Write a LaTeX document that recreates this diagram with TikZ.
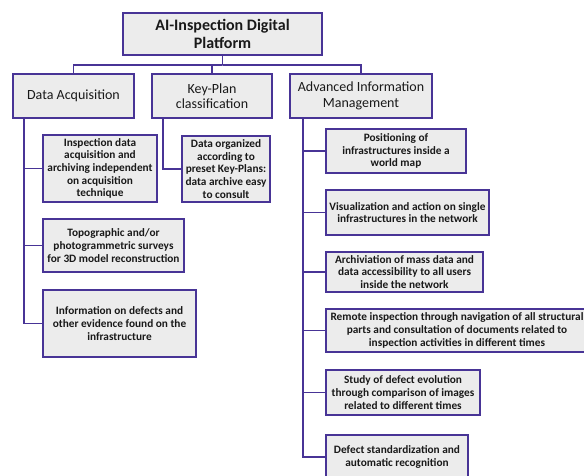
\documentclass[tikz,border=0pt]{standalone}
\usepackage{fontspec}
\setmainfont{Carlito}
\definecolor{bord}{RGB}{72,52,150}
\definecolor{boxfill}{RGB}{236,236,236}
\definecolor{txt}{RGB}{25,25,25}
\tikzset{
  box/.style={draw=bord, line width=1.8pt, fill=boxfill, inner sep=0pt, align=center, text=txt},
  topbox/.style={box, font=\bfseries\fontsize{16}{18}\selectfont},
  lvlbox/.style={box, font=\fontsize{14}{15.5}\selectfont, minimum height=44pt},
  subbox/.style={box, font=\bfseries\fontsize{11.3}{12.6}\selectfont},
  conn/.style={draw=bord, line width=1.5pt}
}
\begin{document}
\begin{tikzpicture}[x=1pt,y=-1pt]
\useasboundingbox (0,0) rectangle (584,475);
\clip (0,0) rectangle (584,475);
\fill[white] (0,0) rectangle (584,475);
% top
\node[topbox, minimum width=199pt, minimum height=42pt] (top) at (222.5,34) {AI-Inspection Digital\\Platform};
% level 1
\node[lvlbox, minimum width=121pt] (da) at (73.5,96) {Data Acquisition};
\node[lvlbox, minimum width=120pt] (kp) at (212,96) {Key-Plan\\classification};
\node[lvlbox, minimum width=142pt] (adv) at (361,96) {Advanced Information\\Management};
% bus
\coordinate (bus) at (222.5,65);
\draw[conn] (top.south) -- (bus);
\draw[conn] (da.north) |- (bus) -| (kp.north);
\draw[conn] (bus) -| (adv.north);
% Data acquisition children
\node[subbox, minimum width=114pt, minimum height=67pt] (insp) at (100,168.5) {Inspection data\\acquisition and\\archiving independent\\on acquisition\\technique};
\node[subbox, minimum width=141pt, minimum height=53pt] (topo) at (113.5,245.5) {Topographic and/or\\photogrammetric surveys\\for 3D model reconstruction};
\node[subbox, minimum width=153pt, minimum height=67pt] (info) at (119.5,323.5) {Information on defects and\\other evidence found on the\\infrastructure};
\draw[conn] ([xshift=12pt]da.south west) |- (insp.west);
\draw[conn] ([xshift=12pt]da.south west) |- (topo.west);
\draw[conn] ([xshift=12pt]da.south west) |- (info.west);
% Key-plan child
\node[subbox, minimum width=88pt, minimum height=66pt] (kpc) at (226,169) {Data organized\\according to\\preset Key-Plans:\\data archive easy\\to consult};
\draw[conn] ([xshift=12pt]kp.south west) |- (kpc.west);
% Advanced children
\node[subbox, minimum width=140pt, minimum height=44pt] (pos) at (396,151) {Positioning of\\infrastructures inside a\\world map};
\node[subbox, minimum width=163pt, minimum height=45pt] (vis) at (407.5,212.5) {Visualization and action on single\\infrastructures in the network};
\node[subbox, minimum width=157pt, minimum height=40pt] (arch) at (404.5,272) {Archiviation of mass data and\\data accessibility to all users\\inside the network};
\node[subbox, minimum width=262pt, minimum height=43pt] (rem) at (457,330.5) {Remote inspection through navigation of all structural\\parts and consultation of documents related to\\inspection activities in different times};
\node[subbox, minimum width=154pt, minimum height=45pt] (study) at (403,392.5) {Study of defect evolution\\through comparison of images\\related to different times};
\node[subbox, minimum width=142pt, minimum height=44pt] (def) at (397,457) {Defect standardization and\\automatic recognition};
\foreach \n in {pos,vis,arch,rem,study,def}
  \draw[conn] ([xshift=14pt]adv.south west) |- (\n.west);
\end{tikzpicture}
\end{document}
